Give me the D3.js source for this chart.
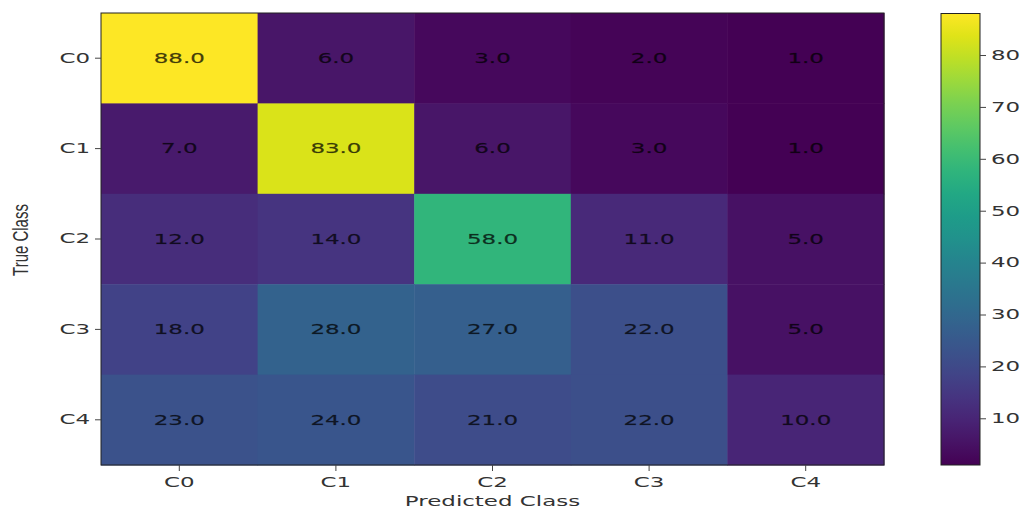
<!DOCTYPE html>
<html><head><meta charset="utf-8">
<script src="https://cdn.jsdelivr.net/npm/d3@7"></script>
<style>body{margin:0;background:#fff}svg{display:block}</style>
</head><body>
<svg id="c" width="1033" height="513"></svg>
<script>
const trueClasses = ["C0","C1","C2","C3","C4"];
const predClasses = ["C0","C1","C2","C3","C4"];
const matrix = [
  [88, 6, 3, 2, 1],
  [7, 83, 6, 3, 1],
  [12, 14, 58, 11, 5],
  [18, 28, 27, 22, 5],
  [23, 24, 21, 22, 10]
];
const cbTicks = [10,20,30,40,50,60,70,80];

const SX = 1.7; // horizontal stretch of text
const font = "DejaVu Sans, sans-serif";
const svg = d3.select("#c");
const L = 101, R = 884, T = 13, B = 465;
const x = d3.scaleBand().domain(predClasses).range([L, R]);
const y = d3.scaleBand().domain(trueClasses).range([T, B]);
const vals = matrix.flat();
const vmin = d3.min(vals), vmax = d3.max(vals);
const color = d3.scaleSequential(d3.interpolateViridis).domain([vmin, vmax]);

const cells = [];
matrix.forEach((row, i) => row.forEach((v, j) => cells.push({r: trueClasses[i], c: predClasses[j], v})));

svg.append("g").selectAll("rect").data(cells).join("rect")
  .attr("x", d => x(d.c)).attr("y", d => y(d.r))
  .attr("width", x.bandwidth() + 0.5).attr("height", y.bandwidth() + 0.5)
  .attr("fill", d => color(d.v));

svg.append("g").selectAll("text").data(cells).join("text")
  .attr("transform", d => `translate(${x(d.c) + x.bandwidth()/2},${y(d.r) + y.bandwidth()/2}) scale(${SX},1)`)
  .attr("text-anchor", "middle").attr("dy", "0.36em")
  .attr("font-family", font).attr("font-size", 13.5)
  .attr("fill", "#000").attr("fill-opacity", 0.72)
  .attr("stroke", "#000").attr("stroke-opacity", 0.35).attr("stroke-width", 0.4)
  .text(d => d.v.toFixed(1));

svg.append("rect").attr("x", L).attr("y", T).attr("width", R - L).attr("height", B - T)
  .attr("fill", "none").attr("stroke", "#222").attr("stroke-width", 1);

// axes
const xAxis = svg.append("g").attr("transform", `translate(0,${B})`)
  .call(d3.axisBottom(x).tickSize(6).tickPadding(4));
const yAxis = svg.append("g").attr("transform", `translate(${L},0)`)
  .call(d3.axisLeft(y).tickSize(6).tickPadding(5));
[xAxis, yAxis].forEach(a => {
  a.select(".domain").remove();
  a.selectAll(".tick line").attr("stroke", "#444");
  a.selectAll(".tick text").attr("font-family", font).attr("font-size", 13.5).attr("fill", "#333");
});
xAxis.selectAll(".tick text").attr("transform", `scale(${SX},1)`).attr("dy", "0.9em");
yAxis.selectAll(".tick text").each(function(){
  const t = d3.select(this);
  const xx = +t.attr("x");
  t.attr("x", xx / SX).attr("transform", `scale(${SX},1)`);
});

svg.append("text")
  .attr("transform", `translate(${(L+R)/2},506) scale(${SX},1)`)
  .attr("text-anchor", "middle").attr("font-family", font).attr("font-size", 13.5).attr("fill", "#333")
  .text("Predicted Class");
svg.append("text")
  .attr("transform", `translate(28,${(T+B)/2 + 1}) scale(1.5,1) rotate(-90)`)
  .attr("text-anchor", "middle").attr("font-family", "Liberation Sans Narrow, Liberation Sans, sans-serif").attr("font-size", 15).attr("fill", "#333")
  .text("True Class");

// colorbar
const CL = 941, CR = 980;
const cy = d3.scaleLinear().domain([vmin, vmax]).range([B, T + 0.5]);
const defs = svg.append("defs");
const grad = defs.append("linearGradient").attr("id", "g").attr("x1", 0).attr("y1", 1).attr("x2", 0).attr("y2", 0);
d3.range(0, 1.0001, 0.05).forEach(t => grad.append("stop").attr("offset", t).attr("stop-color", d3.interpolateViridis(t)));
svg.append("rect").attr("x", CL).attr("y", cy(vmax)).attr("width", CR - CL).attr("height", cy(vmin) - cy(vmax))
  .attr("fill", "url(#g)").attr("stroke", "#222").attr("stroke-width", 1);
const cAxis = svg.append("g").attr("transform", `translate(${CR},0)`)
  .call(d3.axisRight(cy).tickValues(cbTicks).tickSize(6).tickPadding(5));
cAxis.select(".domain").remove();
cAxis.selectAll(".tick line").attr("stroke", "#444");
cAxis.selectAll(".tick text").attr("font-family", font).attr("font-size", 13.5).attr("fill", "#333")
  .each(function(){ const t = d3.select(this); t.attr("x", +t.attr("x") / SX).attr("transform", `scale(${SX},1)`); });
</script>
</body></html>
